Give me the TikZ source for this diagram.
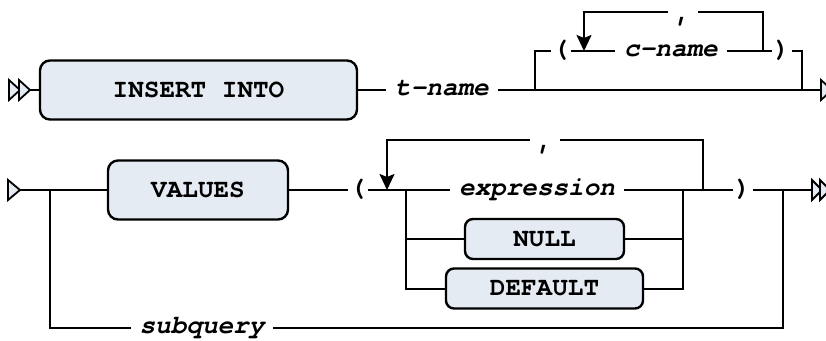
\documentclass[tikz,border=0pt]{standalone}
\usepackage{fontspec}
\setmonofont{TeX Gyre Cursor}
\usetikzlibrary{arrows.meta}
\definecolor{BoxFill}{RGB}{228,235,243}

\begin{document}
\begin{tikzpicture}[x=1pt, y=-1pt, line width=2pt,
    kw/.style={draw, fill=BoxFill, rounded corners=10pt, line width=2.4pt,
      font=\ttfamily\bfseries\fontsize{26}{30}\selectfont, minimum height=59pt},
    word/.style={font=\ttfamily\bfseries\itshape\fontsize{26}{30}\selectfont,
      inner xsep=8pt, inner ysep=0pt, text height=11pt, text depth=0pt},
    sym/.style={font=\ttfamily\bfseries\fontsize{26}{30}\selectfont,
      inner xsep=1pt, inner ysep=0pt, text height=11pt, text depth=0pt},
    sep/.style={sym, inner xsep=6pt, text height=18pt},
    tip/.style={fill=BoxFill, line width=1.8pt},
    back/.style={-{Stealth[length=16pt, width=15pt, inset=3pt]}}]
    \useasboundingbox (0,0) rectangle (826,340);

    % first line: INSERT INTO t-name ( c-name , ... )
    \draw[tip] (9,80) -- (20,90) -- (9,100) -- cycle;
    \draw[tip] (19,80) -- (30,90) -- (19,100) -- cycle;
    \coordinate (s1) at (30,90);
    \node[kw, minimum width=317pt] (insert) at (198.5,90) {INSERT INTO};
    \node[word] (tname) at (442,90) {t-name};
    \coordinate (b1) at (535,90);
    \coordinate (b2) at (802,90);
    \coordinate (e1) at (821,90);
    \draw (s1) -- (insert);
    \draw (insert) -- (tname);
    \draw (tname) -- (e1);
    \draw[tip] (821,80) -- (832,90) -- (821,100) -- cycle;

    % optional column list
    \node[sym] (lpar1) at (561,51) {(};
    \node[word] (cname) at (671,51) {c-name};
    \node[sym] (rpar1) at (782,51) {)};
    \node[sep] (comma1) at (683,12) {,};
    \coordinate (l1a) at (584,51);
    \coordinate (l1b) at (763,51);
    \draw (b1) |- (lpar1);
    \draw (lpar1) -- (cname);
    \draw (cname) -- (rpar1);
    \draw (rpar1) -| (b2);
    \draw (l1b) |- (comma1);
    \draw[back] (comma1) -| (l1a);

    % second line: VALUES ( expression | NULL | DEFAULT , ... ) | subquery
    \draw[tip] (8,180) -- (20,190) -- (8,200) -- cycle;
    \coordinate (s2) at (20,190);
    \coordinate (b3) at (50,190);
    \coordinate (b4) at (783,190);
    \coordinate (e2) at (812,190);
    \node[kw, minimum width=180pt] (values) at (198,190) {VALUES};
    \node[sym] (lpar2) at (358,190) {(};
    \node[word] (expr) at (537,190) {expression};
    \node[kw, minimum width=159pt, minimum height=40pt, rounded corners=8pt] (null) at (544.5,239) {NULL};
    \node[kw, minimum width=197pt, minimum height=40pt, rounded corners=8pt] (default) at (544.5,288.5) {DEFAULT};
    \node[sym] (rpar2) at (743,190) {)};
    \node[sep] (comma2) at (545,140) {,};
    \node[word] (subq) at (202,328) {subquery};
    \coordinate (c1) at (406,190);
    \coordinate (c2) at (683,190);
    \coordinate (l2a) at (387,190);
    \coordinate (l2b) at (703,190);
    \draw (s2) -- (values);
    \draw (values) -- (lpar2);
    \draw (lpar2) -- (expr);
    \draw (expr) -- (rpar2);
    \draw (rpar2) -- (e2);
    \draw (c1) |- (null);
    \draw (c1) |- (default);
    \draw (null) -| (c2);
    \draw (default) -| (c2);
    \draw (l2b) |- (comma2);
    \draw[back] (comma2) -| (l2a);
    \draw (b3) |- (subq);
    \draw (subq) -| (b4);
    \draw[tip] (812,180) -- (822,190) -- (812,200) -- cycle;
    \draw[tip] (820,180) -- (830,190) -- (820,200) -- cycle;
\end{tikzpicture}
\end{document}
